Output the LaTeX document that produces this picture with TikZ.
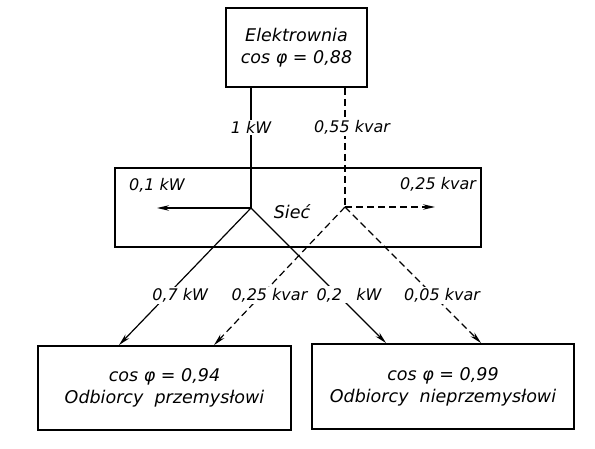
\documentclass[tikz,border=0pt]{standalone}
\usepackage{fontspec}
\setmainfont{DejaVu Sans}
\usetikzlibrary{arrows.meta, positioning, calc}
\tikzset{
    blok/.style={draw=black, line width=1.9pt, align=center, inner sep=0pt, font=\fontsize{17.5}{22}\selectfont\itshape},
    moc/.style={black, line width=1.2pt},
    bierna/.style={moc, dash pattern=on 7pt off 4pt},
    grot/.style={-{Stealth[length=12pt, width=5.5pt]}},
    opis/.style={fill=white, inner sep=1.5pt, font=\fontsize{16}{19}\selectfont\itshape}
}

\begin{document}
\begin{tikzpicture}[x=1pt, y=-1pt]
    \useasboundingbox (0,0) rectangle (595,449);
    % bloki
    \node[blok, minimum width=141pt, minimum height=79pt] (elek) at (296.5,47.5) {Elektrownia\\cos φ = 0,88};
    \node[blok, minimum width=366pt, minimum height=79pt] (siec) at (298,207.5) {};
    \node[blok, draw=none] (nsiec) at (292,212) {Sieć};
    \node[blok, minimum width=253pt, minimum height=84pt] (odb1) at (164.5,388) {cos φ = 0,94\\Odbiorcy\ \ przemysłowi};
    \node[blok, minimum width=262pt, minimum height=85pt] (odb2) at (443,386.5) {cos φ = 0,99\\Odbiorcy\ \ nieprzemysłowi};
    % wezly w sieci
    \coordinate (pw) at (251,208);
    \coordinate (qw) at (345,207);
    \coordinate (pl) at (157,208);
    \coordinate (qr) at (435,207);
    % przeplywy
    \draw[moc] (elek.south -| pw) -- node[opis, pos=0.33] {1 kW} (pw);
    \draw[bierna] (elek.south -| qw) -- node[opis, pos=0.33, xshift=7pt] {0,55 kvar} (qw);
    \draw[moc, grot] (pw) -- (pl);
    \draw[bierna, grot] (qw) -- (qr);
    \node[opis, fill=none, above=14pt of pl] (l01) {0,1 kW};
    \node[opis, fill=none, above=14pt of qr, xshift=3pt] (l025) {0,25 kvar};
    \draw[moc, grot] (pw) -- node[opis, pos=0.635, xshift=13pt] {0,7 kW} ($(odb1.north west)+(82,0)$);
    \draw[bierna, grot] (qw) -- node[opis, pos=0.638, xshift=8pt] {0,25 kvar} ($(odb1.north west)+(177,0)$);
    \draw[moc, grot] (pw) -- node[opis, pos=0.644, xshift=11pt] {0,2\hspace{0.9em}kW} ($(odb2.north west)+(75,0)$);
    \draw[bierna, grot] (qw) -- node[opis, pos=0.647, xshift=9pt] {0,05 kvar} ($(odb2.north west)+(170,0)$);
\end{tikzpicture}
\end{document}
